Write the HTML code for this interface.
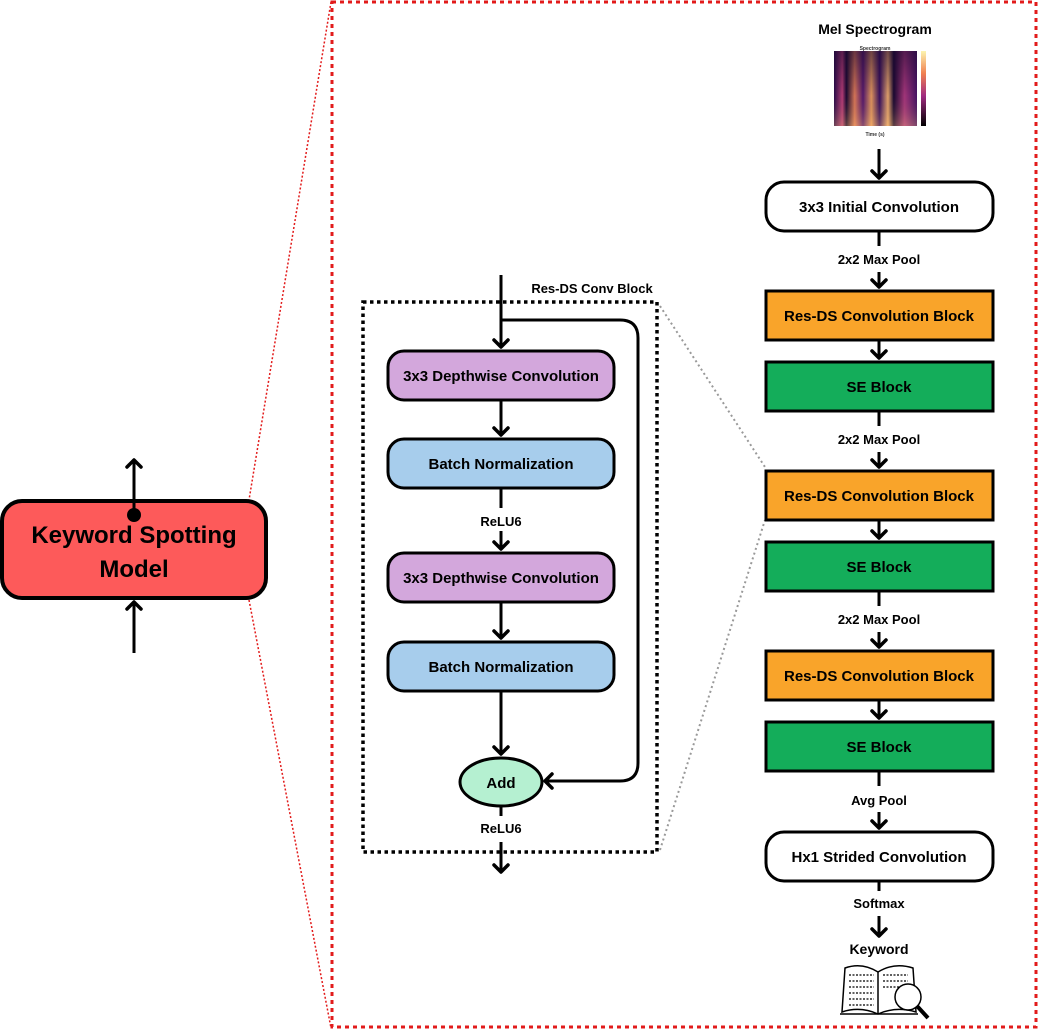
<!DOCTYPE html>
<html><head><meta charset="utf-8"><style>
html,body{margin:0;padding:0;background:#fff;}
svg{display:block;font-family:"Liberation Sans",sans-serif;}
text{font-weight:bold;}
</style></head><body>
<svg width="1039" height="1032" viewBox="0 0 1039 1032" xmlns="http://www.w3.org/2000/svg">
<defs>
<marker id="ah" markerWidth="20" markerHeight="20" refX="9" refY="9" orient="auto" markerUnits="userSpaceOnUse" overflow="visible">
<path d="M2,2 L9,9 L2,16" fill="none" stroke="#000" stroke-width="3.5" stroke-linecap="round" stroke-linejoin="round"/>
</marker>
<linearGradient id="spec" x1="0" x2="1" y1="0" y2="0">
<stop offset="0" stop-color="#2a0b4a"/><stop offset="0.1" stop-color="#c0407a"/><stop offset="0.15" stop-color="#1a0830"/>
<stop offset="0.25" stop-color="#e8805a"/><stop offset="0.35" stop-color="#5a1a70"/><stop offset="0.45" stop-color="#f0a060"/>
<stop offset="0.55" stop-color="#3a1060"/><stop offset="0.65" stop-color="#f5b070"/><stop offset="0.72" stop-color="#1a0830"/>
<stop offset="0.85" stop-color="#b03a80"/><stop offset="1" stop-color="#4a1568"/>
</linearGradient>
<linearGradient id="specv" x1="0" x2="0" y1="0" y2="1">
<stop offset="0" stop-color="#1a0830" stop-opacity="0.6"/><stop offset="0.6" stop-color="#1a0830" stop-opacity="0.1"/><stop offset="1" stop-color="#f5c070" stop-opacity="0.3"/>
</linearGradient>
<linearGradient id="cbar" x1="0" x2="0" y1="0" y2="1">
<stop offset="0" stop-color="#fcf5b0"/><stop offset="0.3" stop-color="#f08050"/><stop offset="0.6" stop-color="#a02a80"/><stop offset="1" stop-color="#000"/>
</linearGradient>
</defs>

<rect x="332" y="2" width="704" height="1025" fill="none" stroke="#e21b1b" stroke-width="3" stroke-dasharray="4,4"/>
<line x1="331" y1="2" x2="249" y2="500" stroke="#e21b1b" stroke-width="1.5" stroke-dasharray="2,2"/>
<line x1="249" y1="600" x2="331" y2="1028" stroke="#e21b1b" stroke-width="1.5" stroke-dasharray="2,2"/>

<rect x="2" y="501" width="264" height="97" rx="20" fill="#fd5a5a" stroke="#000" stroke-width="4"/>
<text x="134" y="543" font-size="24" text-anchor="middle">Keyword Spotting</text>
<text x="134" y="577" font-size="24" text-anchor="middle">Model</text>
<line x1="134" y1="516" x2="134" y2="460" stroke="#000" stroke-width="3" marker-end="url(#ah)"/>
<circle cx="134" cy="515" r="7" fill="#000"/>
<line x1="134" y1="653" x2="134" y2="602" stroke="#000" stroke-width="3" marker-end="url(#ah)"/>

<rect x="363" y="302" width="294" height="550" fill="none" stroke="#000" stroke-width="3.5" stroke-dasharray="3.5,3.5"/>
<line x1="660" y1="306" x2="765" y2="467" stroke="#999" stroke-width="2" stroke-dasharray="2,3"/>
<line x1="660" y1="850" x2="765" y2="520" stroke="#999" stroke-width="2" stroke-dasharray="2,3"/>
<text x="592" y="293" font-size="13" text-anchor="middle">Res-DS Conv Block</text>

<line x1="501" y1="275" x2="501" y2="347" stroke="#000" stroke-width="3" marker-end="url(#ah)"/>
<path d="M501,320 H620 Q638,320 638,338 V763 Q638,781 620,781 H545" fill="none" stroke="#000" stroke-width="3" marker-end="url(#ah)"/>

<rect x="388" y="351" width="226" height="49" rx="16" fill="#d3a7dc" stroke="#000" stroke-width="3"/>
<text x="501" y="381" font-size="15" text-anchor="middle">3x3 Depthwise Convolution</text>
<line x1="501" y1="400" x2="501" y2="435" stroke="#000" stroke-width="3" marker-end="url(#ah)"/>
<rect x="388" y="439" width="226" height="49" rx="16" fill="#a7cdec" stroke="#000" stroke-width="3"/>
<text x="501" y="469" font-size="15" text-anchor="middle">Batch Normalization</text>
<line x1="501" y1="488" x2="501" y2="508" stroke="#000" stroke-width="3"/>
<text x="501" y="526" font-size="13" text-anchor="middle">ReLU6</text>
<line x1="501" y1="531" x2="501" y2="549" stroke="#000" stroke-width="3" marker-end="url(#ah)"/>
<rect x="388" y="553" width="226" height="49" rx="16" fill="#d3a7dc" stroke="#000" stroke-width="3"/>
<text x="501" y="583" font-size="15" text-anchor="middle">3x3 Depthwise Convolution</text>
<line x1="501" y1="602" x2="501" y2="638" stroke="#000" stroke-width="3" marker-end="url(#ah)"/>
<rect x="388" y="642" width="226" height="49" rx="16" fill="#a7cdec" stroke="#000" stroke-width="3"/>
<text x="501" y="672" font-size="15" text-anchor="middle">Batch Normalization</text>
<line x1="501" y1="691" x2="501" y2="754" stroke="#000" stroke-width="3" marker-end="url(#ah)"/>
<ellipse cx="501" cy="782" rx="41" ry="24" fill="#b5f0d1" stroke="#000" stroke-width="3"/>
<text x="501" y="788" font-size="15" text-anchor="middle">Add</text>
<line x1="501" y1="806" x2="501" y2="816" stroke="#000" stroke-width="3"/>
<text x="501" y="833" font-size="13" text-anchor="middle">ReLU6</text>
<line x1="501" y1="842" x2="501" y2="872" stroke="#000" stroke-width="3" marker-end="url(#ah)"/>

<text x="875" y="34" font-size="14" text-anchor="middle">Mel Spectrogram</text>
<rect x="834" y="51" width="83" height="75" fill="url(#spec)"/>
<rect x="834" y="51" width="83" height="75" fill="url(#specv)"/>
<rect x="921" y="51" width="5" height="75" fill="url(#cbar)"/>
<text x="875" y="50" font-size="5" font-weight="normal" text-anchor="middle" fill="#333">Spectrogram</text>
<text x="875" y="136" font-size="5" font-weight="normal" text-anchor="middle" fill="#333">Time (s)</text>

<line x1="879" y1="149" x2="879" y2="178" stroke="#000" stroke-width="3" marker-end="url(#ah)"/>
<rect x="766" y="182" width="227" height="49" rx="18" fill="#fff" stroke="#000" stroke-width="3"/>
<text x="879" y="212" font-size="15" text-anchor="middle">3x3 Initial Convolution</text>
<line x1="879" y1="231" x2="879" y2="246" stroke="#000" stroke-width="3"/>
<text x="879" y="264" font-size="13" text-anchor="middle">2x2 Max Pool</text>
<line x1="879" y1="272" x2="879" y2="287" stroke="#000" stroke-width="3" marker-end="url(#ah)"/>

<rect x="766" y="291" width="227" height="49" fill="#f9a42a" stroke="#000" stroke-width="3"/>
<text x="879" y="321" font-size="15" text-anchor="middle">Res-DS Convolution Block</text>
<line x1="879" y1="340" x2="879" y2="358" stroke="#000" stroke-width="3" marker-end="url(#ah)"/>
<rect x="766" y="362" width="227" height="49" fill="#14ad5a" stroke="#000" stroke-width="3"/>
<text x="879" y="392" font-size="15" text-anchor="middle">SE Block</text>
<line x1="879" y1="411" x2="879" y2="426" stroke="#000" stroke-width="3"/>
<text x="879" y="444" font-size="13" text-anchor="middle">2x2 Max Pool</text>
<line x1="879" y1="452" x2="879" y2="467" stroke="#000" stroke-width="3" marker-end="url(#ah)"/>

<rect x="766" y="471" width="227" height="49" fill="#f9a42a" stroke="#000" stroke-width="3"/>
<text x="879" y="501" font-size="15" text-anchor="middle">Res-DS Convolution Block</text>
<line x1="879" y1="520" x2="879" y2="538" stroke="#000" stroke-width="3" marker-end="url(#ah)"/>
<rect x="766" y="542" width="227" height="49" fill="#14ad5a" stroke="#000" stroke-width="3"/>
<text x="879" y="572" font-size="15" text-anchor="middle">SE Block</text>
<line x1="879" y1="591" x2="879" y2="606" stroke="#000" stroke-width="3"/>
<text x="879" y="624" font-size="13" text-anchor="middle">2x2 Max Pool</text>
<line x1="879" y1="632" x2="879" y2="647" stroke="#000" stroke-width="3" marker-end="url(#ah)"/>

<rect x="766" y="651" width="227" height="49" fill="#f9a42a" stroke="#000" stroke-width="3"/>
<text x="879" y="681" font-size="15" text-anchor="middle">Res-DS Convolution Block</text>
<line x1="879" y1="700" x2="879" y2="718" stroke="#000" stroke-width="3" marker-end="url(#ah)"/>
<rect x="766" y="722" width="227" height="49" fill="#14ad5a" stroke="#000" stroke-width="3"/>
<text x="879" y="752" font-size="15" text-anchor="middle">SE Block</text>
<line x1="879" y1="771" x2="879" y2="786" stroke="#000" stroke-width="3"/>
<text x="879" y="805" font-size="13" text-anchor="middle">Avg Pool</text>
<line x1="879" y1="812" x2="879" y2="828" stroke="#000" stroke-width="3" marker-end="url(#ah)"/>

<rect x="766" y="832" width="227" height="49" rx="18" fill="#fff" stroke="#000" stroke-width="3"/>
<text x="879" y="862" font-size="15" text-anchor="middle">Hx1 Strided Convolution</text>
<line x1="879" y1="881" x2="879" y2="891" stroke="#000" stroke-width="3"/>
<text x="879" y="908" font-size="13" text-anchor="middle">Softmax</text>
<line x1="879" y1="916" x2="879" y2="936" stroke="#000" stroke-width="3" marker-end="url(#ah)"/>
<text x="879" y="954" font-size="14" text-anchor="middle">Keyword</text>

<g fill="none" stroke="#000" stroke-width="1.5">
<path d="M845,968 Q862,962 878,972 Q894,962 913,968 L916,1012 Q896,1006 878,1014 Q860,1006 842,1012 Z"/>
<path d="M878,972 V1014"/>
<path d="M840,1014 H918" />
<g stroke-dasharray="2,1.5" stroke-width="1.2">
<path d="M849,975 H874 M849,981 H874 M849,987 H874 M849,993 H874 M849,999 H874 M849,1005 H874"/>
<path d="M883,975 H908 M883,981 H908 M883,987 H900"/>
</g>
<circle cx="908" cy="997" r="13" fill="#fff"/>
<path d="M917,1006 L928,1018" stroke-width="4"/>
</g>
</svg>
</body></html>
